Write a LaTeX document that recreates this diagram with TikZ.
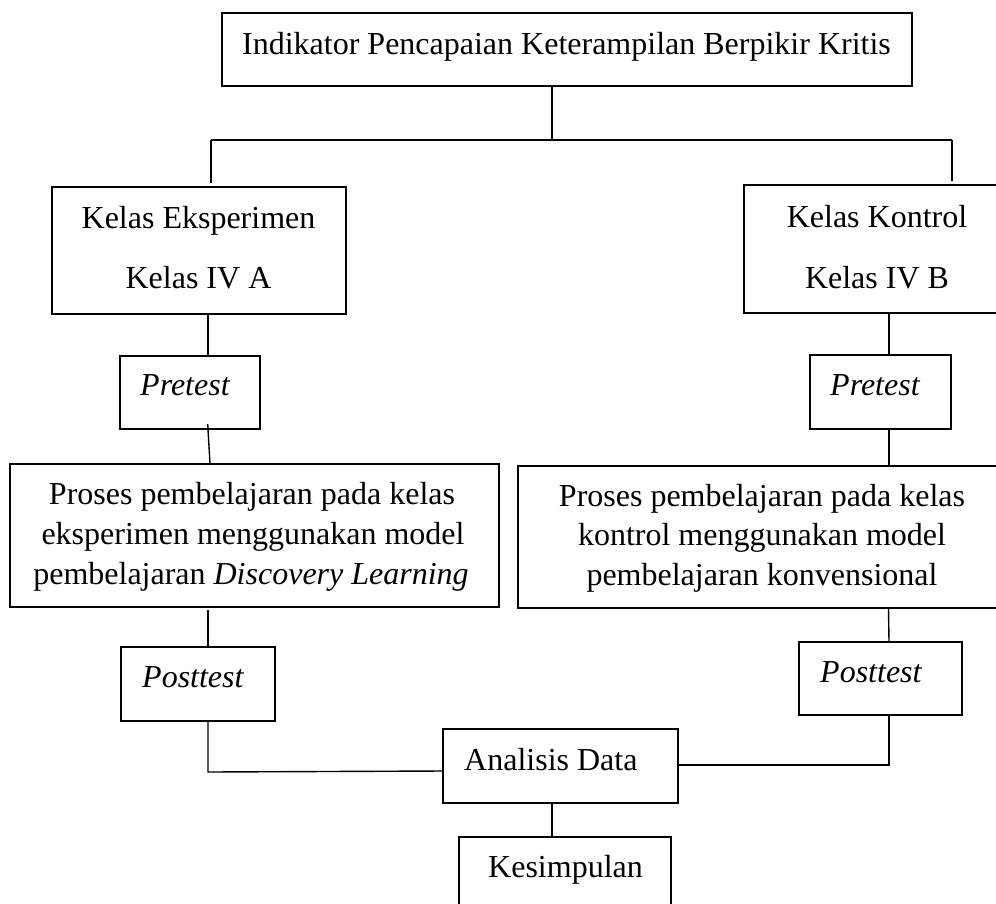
\documentclass[tikz,border=0pt]{standalone}
\usepackage{fontspec}
\setmainfont{Liberation Serif}
\newcommand\mainfs{\fontsize{32}{38}\selectfont}
\begin{document}
\begin{tikzpicture}[x=1pt,y=-1pt,
  box/.style={draw=black,line width=1.4pt,inner sep=0pt,rectangle},
  txt/.style={inner sep=0pt,font=\mainfs,text=black},
  link/.style={draw=black,line width=1.4pt}]
\useasboundingbox (0,0) rectangle (996,903);
\clip (0,0) rectangle (996,903);
% boxes
\node[box,minimum width=690pt,minimum height=73pt] (top) at (567,49.5) {};
\node[box,minimum width=294pt,minimum height=127pt] (kelasA) at (199,250.5) {};
\node[box,minimum width=266pt,minimum height=128pt] (kelasB) at (877,249) {};
\node[box,minimum width=140pt,minimum height=73pt] (preA) at (190,392.5) {};
\node[box,minimum width=141pt,minimum height=74pt] (preB) at (880.5,392) {};
\node[box,minimum width=489pt,minimum height=143pt] (procA) at (254.5,535.5) {};
\node[box,minimum width=488pt,minimum height=142pt] (procB) at (762,537) {};
\node[box,minimum width=154pt,minimum height=74pt] (postA) at (198,684) {};
\node[box,minimum width=163pt,minimum height=73pt] (postB) at (880.5,678.5) {};
\node[box,minimum width=235pt,minimum height=74pt] (anal) at (560.5,766) {};
\node[box,minimum width=212pt,minimum height=74pt] (kes) at (565,874) {};
% texts
\node[txt,anchor=base] (topT) at (566.5,54) {Indikator Pencapaian Keterampilan Berpikir Kritis};
\node[txt,anchor=base] (kelasA1) at (198.5,228) {Kelas Eksperimen};
\node[txt,anchor=base] (kelasA2) at (198.5,288) {Kelas IV A};
\node[txt,anchor=base] (kelasB1) at (877,227) {Kelas Kontrol};
\node[txt,anchor=base] (kelasB2) at (877,288) {Kelas IV B};
\node[txt,anchor=base west] (preAT) at (140,395) {\itshape Pretest};
\node[txt,anchor=base west] (preBT) at (830,395) {\itshape Pretest};
\node[txt,anchor=base] (procA1) at (252,504) {Proses pembelajaran pada kelas};
\node[txt,anchor=base] (procA2) at (253,544) {eksperimen menggunakan model};
\node[txt,anchor=base] (procA3) at (251,584) {pembelajaran \textit{Discovery Learning}};
\node[txt,anchor=base] (procB1) at (762,506) {Proses pembelajaran pada kelas};
\node[txt,anchor=base] (procB2) at (762,545) {kontrol menggunakan model};
\node[txt,anchor=base] (procB3) at (762,585) {pembelajaran konvensional};
\node[txt,anchor=base west] (postAT) at (142,687) {\itshape Posttest};
\node[txt,anchor=base west] (postBT) at (820,682) {\itshape Posttest};
\node[txt,anchor=base west] (analT) at (464,770) {Analisis Data};
\node[txt,anchor=base west] (kesT) at (488,877) {Kesimpulan};
% connectors
\coordinate (split) at (552,140);
\coordinate (splitL) at (211,140);
\coordinate (splitR) at (952,140);
\draw[link] (top.south -| split) -- (split);
\draw[link] (splitL) -- (splitR);
\draw[link] (splitL) -- (211,183);
\draw[link] (splitR) -- (952,181);
\draw[link] (kelasA.south -| 208,0) -- (preA.north -| 208,0);
\draw[link] (kelasB.south -| 889,0) -- (preB.north -| 889,0);
\draw[link] (207.7,424) -- (procA.north -| 210,0);
\draw[link] (preB.south -| 889,0) -- (procB.north -| 889,0);
\draw[link] (208,610) -- (postA.north -| 208,0);
\draw[link] (procB.south -| 888.5,0) -- (postB.north -| 889,0);
\coordinate (jl) at (208,772);
\coordinate (jr) at (889,765);
\draw[link] (postA.south -| jl) -- (jl) -- (anal.west |- 0,771);
\draw[link] (postB.south -| jr) -- (jr) -- (anal.east |- jr);
\draw[link] (anal.south -| 552,0) -- (kes.north -| 552,0);
\end{tikzpicture}
\end{document}
